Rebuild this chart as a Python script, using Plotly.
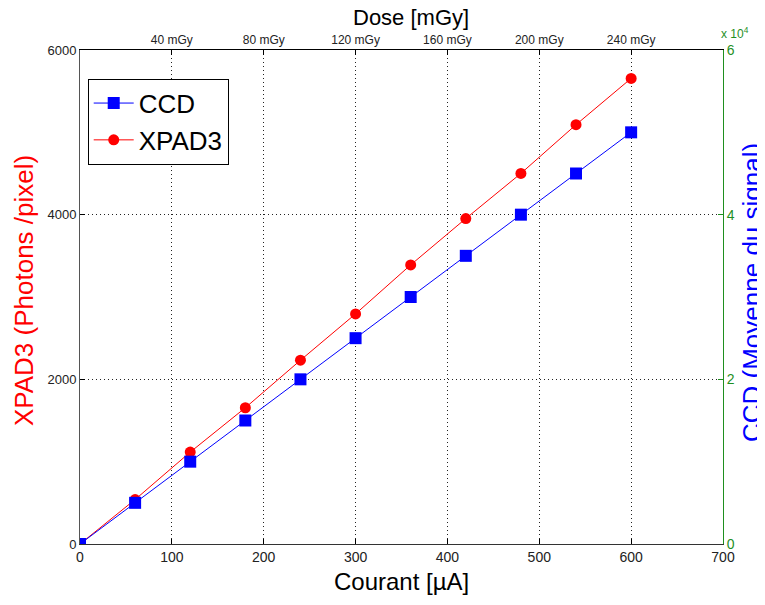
import plotly.graph_objects as go

courant = [0, 60, 120, 180, 240, 300, 360, 420, 480, 540, 600]
ccd = [0, 5000, 10000, 15000, 20000, 25000, 30000, 35000, 40000, 45000, 50000]
xpad3 = [0, 540, 1116, 1655, 2232, 2795, 3390, 3953, 4501, 5093, 5655]

dose_tickvals = [100, 200, 300, 400, 500, 600]
dose_ticktext = ["40 mGy", "80 mGy", "120 mGy", "160 mGy", "200 mGy", "240 mGy"]
ccd_tickvals = [0, 20000, 40000, 60000]
ccd_ticktext = ["0", "2", "4", "6"]

FONT = "Liberation Sans, Arial, sans-serif"
GREEN = "#1f8f1f"
GRID = "#222"
DASH = "1px,3px"

fig = go.Figure()
fig.add_trace(go.Scatter(
    x=courant, y=ccd, name="CCD", mode="lines+markers",
    line=dict(color="blue", width=1), marker=dict(symbol="square", size=12, color="blue"),
    yaxis="y2", xaxis="x", legendrank=1))
fig.add_trace(go.Scatter(
    x=courant, y=xpad3, name="XPAD3", mode="lines+markers",
    line=dict(color="red", width=1), marker=dict(symbol="circle", size=11, color="red"),
    yaxis="y", xaxis="x", legendrank=2))
# invisible trace to activate the top axis
fig.add_trace(go.Scatter(x=[0, 700], y=[0, 0], xaxis="x2", yaxis="y", mode="markers",
                         marker=dict(opacity=0), showlegend=False, hoverinfo="skip"))

fig.update_layout(
    width=757, height=597,
    margin=dict(l=72, r=42, t=42, b=61, autoexpand=False),
    paper_bgcolor="white", plot_bgcolor="white",
    font=dict(family=FONT, color="black"),
    showlegend=True,
    legend=dict(x=0.012, y=0.942, xanchor="left", yanchor="top",
                bordercolor="black", borderwidth=1, bgcolor="white",
                font=dict(size=26, family=FONT), itemwidth=40,
                tracegroupgap=0),
    xaxis=dict(range=[0, 700], tickvals=[0, 100, 200, 300, 400, 500, 600, 700],
               ticks="inside", ticklen=5, tickcolor="black", automargin=False,
               showline=True, linecolor="#333", linewidth=1,
               showgrid=True, gridcolor=GRID, griddash=DASH, gridwidth=1,
               zeroline=False, tickfont=dict(size=14, color="#222")),
    xaxis2=dict(range=[0, 700], overlaying="x", side="top", anchor="y",
                tickvals=dose_tickvals, ticktext=dose_ticktext, automargin=False,
                ticks="inside", ticklen=5, tickcolor="black",
                showline=True, linecolor="black", linewidth=1,
                showgrid=False, zeroline=False, tickfont=dict(size=12, color="#222")),
    yaxis=dict(range=[0, 6000], tickvals=[0, 2000, 4000, 6000], automargin=False,
               ticks="inside", ticklen=5, tickcolor="black",
               showline=True, linecolor="#555", linewidth=1,
               showgrid=True, gridcolor=GRID, griddash=DASH, gridwidth=1,
               zeroline=False, tickfont=dict(size=13, color="#222")),
    yaxis2=dict(range=[0, 60000], overlaying="y", side="right", automargin=False,
                tickvals=ccd_tickvals, ticktext=ccd_ticktext,
                ticks="inside", ticklen=5, tickcolor=GREEN,
                showline=True, linecolor=GREEN, linewidth=1,
                showgrid=False, zeroline=False, tickfont=dict(size=14, color=GREEN)),
)

# axis titles
fig.add_annotation(text="Dose [mGy]", xref="paper", yref="paper", x=0.515, y=1.0,
                   xanchor="center", yanchor="bottom", yshift=18, showarrow=False,
                   font=dict(size=22, color="black", family=FONT))
fig.add_annotation(text="Courant [µA]", xref="paper", yref="paper", x=0.5, y=0.0,
                   xanchor="center", yanchor="top", yshift=-22, showarrow=False,
                   font=dict(size=24, color="black", family=FONT))
fig.add_annotation(text="XPAD3 (Photons /pixel)", xref="paper", yref="paper", x=0.0, y=0.5,
                   xanchor="center", yanchor="middle", xshift=-56, yshift=6, textangle=-90,
                   showarrow=False, font=dict(size=26, color="red", family=FONT))
fig.add_annotation(text="CCD (Moyenne du signal)", xref="paper", yref="paper", x=1.0, y=0.5,
                   xanchor="center", yanchor="middle", xshift=29, yshift=4, textangle=-90,
                   showarrow=False, font=dict(size=26, color="blue", family=FONT))
fig.add_annotation(text="x 10<sup>4</sup>", xref="paper", yref="paper", x=1.0, y=1.0,
                   xanchor="left", yanchor="bottom", showarrow=False,
                   font=dict(size=12, color=GREEN, family=FONT), xshift=-4, yshift=7)

fig.write_html("out.html")
